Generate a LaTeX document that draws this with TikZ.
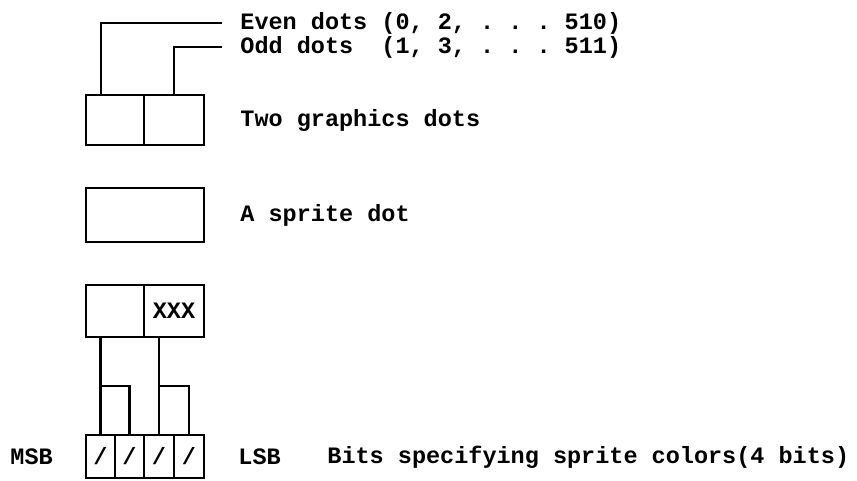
\documentclass[tikz,border=0pt]{standalone}
\usepackage{fontspec}
\setmonofont{Liberation Mono}
\usepackage{tikz}
\usetikzlibrary{positioning,calc}
\newcommand{\typefont}{\fontsize{11.75}{14}\selectfont\ttfamily\bfseries}
\tikzset{
  cell/.style={draw, line width=1.2pt, inner sep=0pt, outer sep=0pt,
              font=\typefont, minimum height=25pt},
  note/.style={anchor=west, inner sep=0pt, font=\typefont},
  wire/.style={line width=1.1pt},
}
\begin{document}
\begin{tikzpicture}[x=0.5pt, y=-0.5pt, node distance=0pt]
    \useasboundingbox (0,0) rectangle (857,481);
    % two graphics dots
    \node[cell, minimum width=29pt] (ev) at (115,120) {};
    \node[cell, minimum width=30pt, right=of ev] (od) {};
    \node[note] (evtxt) at (240,23) {Even dots (0, 2, . . . 510)};
    \node[note] (odtxt) at (240,47) {Odd dots\ \ (1, 3, . . . 511)};
    \node[note] (tgd) at (240,120) {Two graphics dots};
    \coordinate (evk) at ([xshift=7.5pt]ev.north west);
    \draw[wire] (evk) |- ([xshift=-9pt]evtxt.west);
    \draw[wire] (od.north) |- ([xshift=-9pt]odtxt.west);
    % sprite dot
    \node[cell, minimum width=59pt, minimum height=27pt] (spr) at (145,215) {};
    \node[note] (sdt) at (240,215) {A sprite dot};
    % sprite dot split into bits
    \node[cell, minimum width=29pt, minimum height=26pt] (lo) at (115,311) {};
    \node[cell, minimum width=30pt, minimum height=26pt, right=of lo] (hi) {XXX};
    \node[cell, minimum width=14.5pt, minimum height=21.5pt] (b1) at (100.5,456.5) {/};
    \node[cell, minimum width=14.5pt, minimum height=21.5pt, right=of b1] (b2) {/};
    \node[cell, minimum width=15pt, minimum height=21.5pt, right=of b2] (b3) {/};
    \node[cell, minimum width=15pt, minimum height=21.5pt, right=of b3] (b4) {/};
    \coordinate (j1) at (b1 |- 0,386);
    \coordinate (j3) at (b3 |- 0,386);
    \draw[wire] (b1.north) -- (b1 |- lo.south);
    \draw[wire] (b2.north) |- (j1);
    \draw[wire] (b3.north) -- (b3 |- hi.south);
    \draw[wire] (b4.north) |- (j3);
    \node[note] (msb) at (10,457) {MSB};
    \node[note] (lsb) at (238,457) {LSB};
    \node[note] (bits) at (327,457) {Bits specifying sprite colors(4 bits)};
  \end{tikzpicture}
\end{document}
